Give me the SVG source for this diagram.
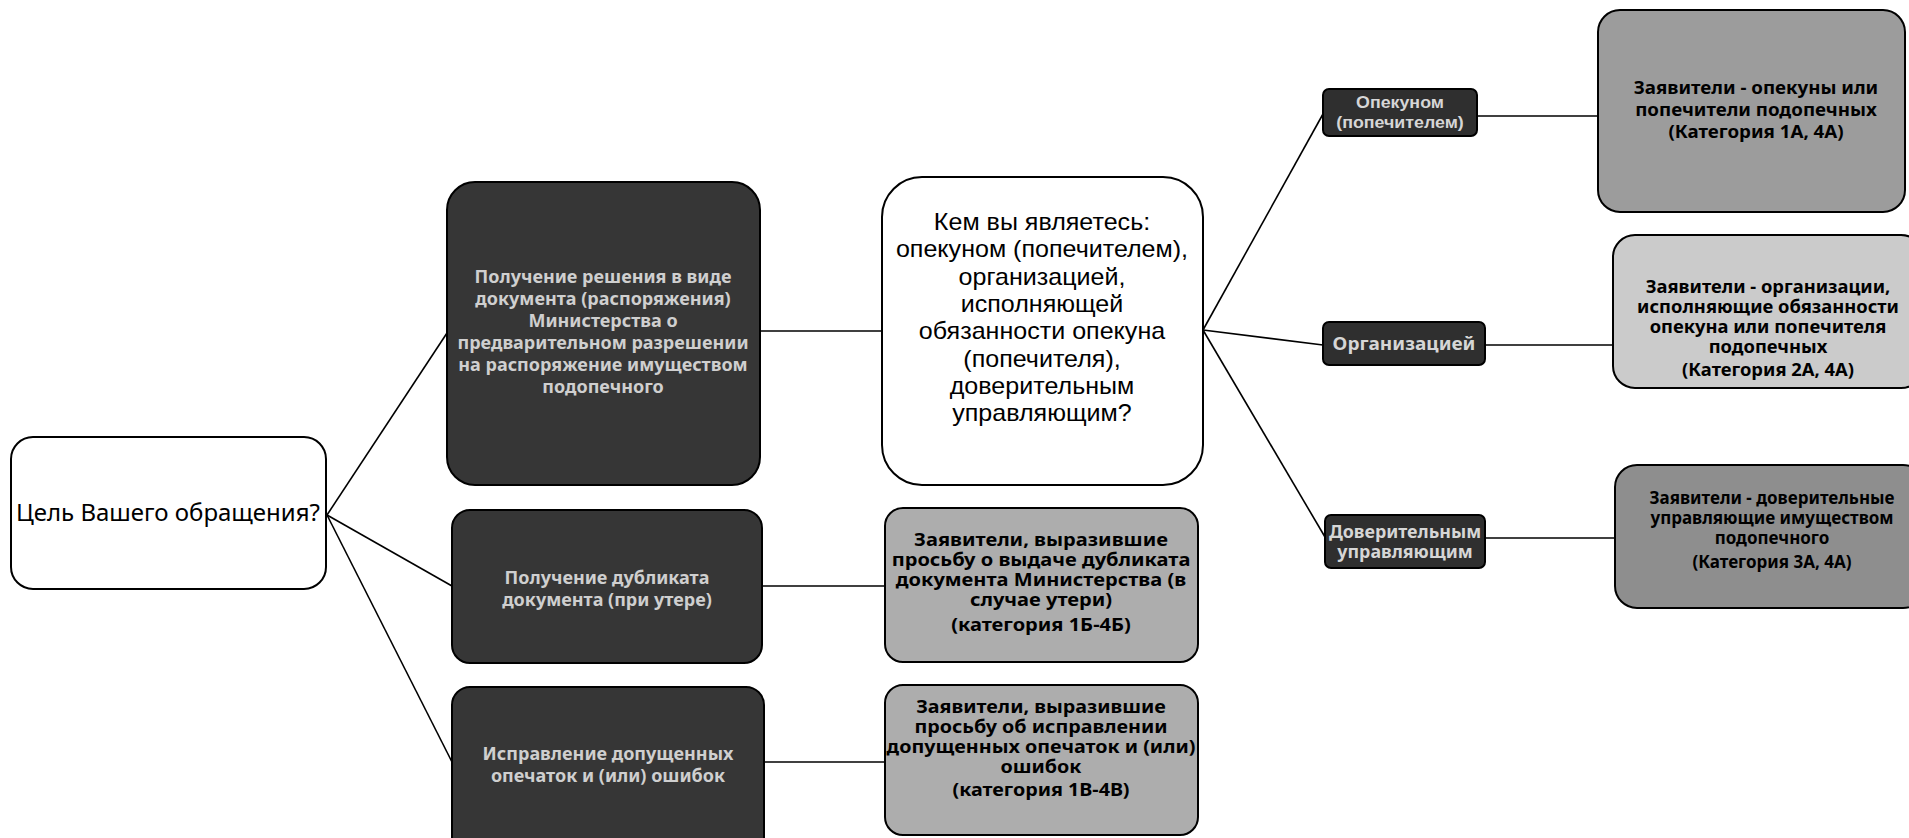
<svg xmlns="http://www.w3.org/2000/svg" width="1909" height="838" viewBox="0 0 1909 838">
<style>
.box{stroke:#000;stroke-width:2}
.white{fill:#fff}
.dark{fill:#363636}
.gray{fill:#adadad}
.r1{fill:#9c9c9c}
.r2{fill:#cbcbcb}
.r3{fill:#8e8e8e}
.small{fill:#2f2f2f}
text{font-family:"Noto Sans","Open Sans","DejaVu Sans",sans-serif;text-anchor:middle}
.tw{font-size:24px;fill:#000}
.tc{font-family:"Liberation Sans",Arial,sans-serif;font-size:23px;fill:#000}
.td{font-size:18px;font-weight:bold;fill:#cfcfcf}
.tg{font-size:17px;font-weight:bold;fill:#000}
.tr{font-size:18px;font-weight:bold;fill:#000}
.ts{font-size:17px;font-weight:bold;fill:#d6d6d6}
.ts2{font-family:"Liberation Sans",Arial,sans-serif;font-size:16.5px;font-weight:bold;fill:#d6d6d6}
#connectors line{stroke:#000;stroke-width:1.6}
</style>
<rect width="1909" height="838" fill="#fff"/>
<g id="connectors">
<line x1="327" y1="515" x2="447" y2="333"/>
<line x1="327" y1="515" x2="452" y2="586"/>
<line x1="327" y1="515" x2="452" y2="762"/>
<line x1="760" y1="331" x2="882" y2="331"/>
<line x1="762" y1="586" x2="885" y2="586"/>
<line x1="764" y1="762" x2="885" y2="762"/>
<line x1="1203" y1="330" x2="1323" y2="114"/>
<line x1="1203" y1="330" x2="1323" y2="345"/>
<line x1="1203" y1="330" x2="1325" y2="537"/>
<line x1="1477" y1="116" x2="1598" y2="116"/>
<line x1="1485" y1="345" x2="1613" y2="345"/>
<line x1="1485" y1="538" x2="1615" y2="538"/>
</g>
<g id="root">
<rect class="box white" x="11" y="437" width="315" height="152" rx="22"/>
<text class="tw" x="168" y="521">Цель Вашего обращения?</text>
</g>
<g id="goal1">
<rect class="box dark" x="447" y="182" width="313" height="303" rx="28"/>
<text class="td" x="603" y="283">Получение решения в виде</text>
<text class="td" x="603" y="305">документа (распоряжения)</text>
<text class="td" x="603" y="327">Министерства о</text>
<text class="td" x="603" y="349">предварительном разрешении</text>
<text class="td" x="603" y="371">на распоряжение имуществом</text>
<text class="td" x="603" y="393">подопечного</text>
</g>
<g id="goal2">
<rect class="box dark" x="452" y="510" width="310" height="153" rx="18"/>
<text class="td" x="607" y="584">Получение дубликата</text>
<text class="td" x="607" y="606">документа (при утере)</text>
</g>
<g id="goal3">
<rect class="box dark" x="452" y="687" width="312" height="170" rx="18"/>
<text class="td" x="608" y="760">Исправление допущенных</text>
<text class="td" x="608" y="782">опечаток и (или) ошибок</text>
</g>
<g id="who">
<rect class="box white" x="882" y="177" width="321" height="308" rx="40"/>
<g transform="translate(1042,0) scale(1.09,1)">
<text class="tc" x="0" y="230">Кем вы являетесь:</text>
<text class="tc" x="0" y="257">опекуном (попечителем),</text>
<text class="tc" x="0" y="285">организацией,</text>
<text class="tc" x="0" y="312">исполняющей</text>
<text class="tc" x="0" y="339">обязанности опекуна</text>
<text class="tc" x="0" y="367">(попечителя),</text>
<text class="tc" x="0" y="394">доверительным</text>
<text class="tc" x="0" y="421">управляющим?</text>
</g>
</g>
<g id="dup">
<rect class="box gray" x="885" y="508" width="313" height="154" rx="18"/>
<g transform="translate(1041,0) scale(1.18,1)">
<text class="tg" x="0" y="546">Заявители, выразившие</text>
<text class="tg" x="0" y="566">просьбу о выдаче дубликата</text>
<text class="tg" x="0" y="586">документа Министерства (в</text>
<text class="tg" x="0" y="606">случае утери)</text>
<text class="tg" x="0" y="631">(категория 1Б-4Б)</text>
</g>
</g>
<g id="fix">
<rect class="box gray" x="885" y="685" width="313" height="150" rx="18"/>
<g transform="translate(1041,0) scale(1.16,1)">
<text class="tg" x="0" y="713">Заявители, выразившие</text>
<text class="tg" x="0" y="733">просьбу об исправлении</text>
<text class="tg" x="0" y="753">допущенных опечаток и (или)</text>
<text class="tg" x="0" y="773">ошибок</text>
<text class="tg" x="0" y="796">(категория 1В-4В)</text>
</g>
</g>
<g id="guardian">
<rect class="box small" x="1323" y="89" width="154" height="47" rx="6"/>
<g transform="translate(1400,0) scale(1.08,1)">
<text class="ts2" x="0" y="108">Опекуном</text>
<text class="ts2" x="0" y="128">(попечителем)</text>
</g>
</g>
<g id="org">
<rect class="box small" x="1323" y="322" width="162" height="43" rx="6"/>
<g transform="translate(1404,0) scale(1.12,1)">
<text class="ts" x="0" y="350">Организацией</text>
</g>
</g>
<g id="trustee">
<rect class="box small" x="1325" y="515" width="160" height="53" rx="6"/>
<g transform="translate(1405,0) scale(1.05,1)">
<text class="ts" x="0" y="538">Доверительным</text>
<text class="ts" x="0" y="558">управляющим</text>
</g>
</g>
<g id="cat1">
<rect class="box r1" x="1598" y="10" width="307" height="202" rx="22"/>
<g transform="translate(1756,0) scale(1.04,1)">
<text class="tr" x="0" y="94">Заявители - опекуны или</text>
<text class="tr" x="0" y="116">попечители подопечных</text>
<text class="tr" x="0" y="138">(Категория 1А, 4А)</text>
</g>
</g>
<g id="cat2">
<rect class="box r2" x="1613" y="235" width="310" height="153" rx="22"/>
<g transform="translate(1768,0) scale(1.08,1)">
<text class="tg" x="0" y="293">Заявители - организации,</text>
<text class="tg" x="0" y="313">исполняющие обязанности</text>
<text class="tg" x="0" y="333">опекуна или попечителя</text>
<text class="tg" x="0" y="353">подопечных</text>
<text class="tg" x="0" y="376">(Категория 2А, 4А)</text>
</g>
</g>
<g id="cat3">
<rect class="box r3" x="1615" y="465" width="310" height="143" rx="22"/>
<text class="tg" x="1772" y="504">Заявители - доверительные</text>
<text class="tg" x="1772" y="524">управляющие имуществом</text>
<text class="tg" x="1772" y="544">подопечного</text>
<text class="tg" x="1772" y="568">(Категория 3А, 4А)</text>
</g>
</svg>
